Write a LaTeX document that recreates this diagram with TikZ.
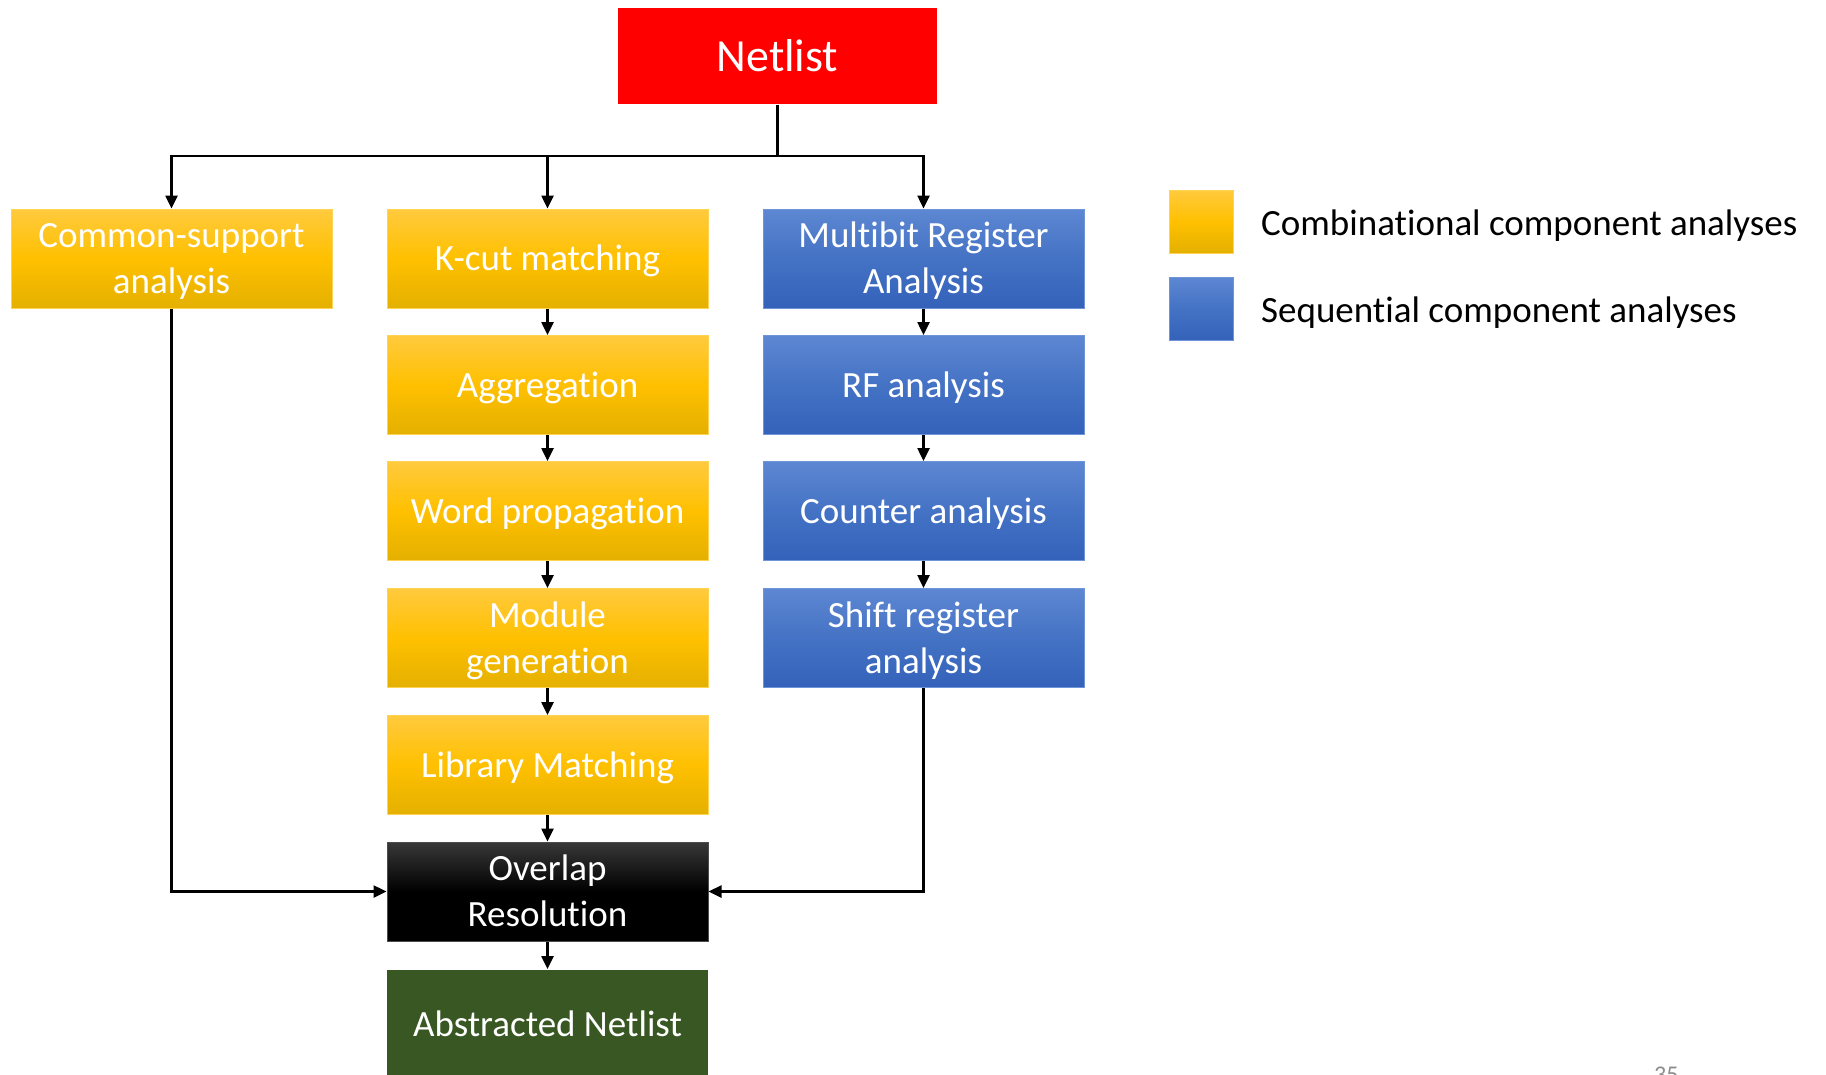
\documentclass[tikz,border=0pt]{standalone}
\usepackage{fontspec}
\setmainfont{Carlito}[RawFeature={-liga;-clig;-calt;-dlig}]
\usetikzlibrary{arrows.meta,calc}

\definecolor{netred}{HTML}{FF0000}
\definecolor{goldtop}{HTML}{FFCA3E}
\definecolor{goldmid}{HTML}{FFC000}
\definecolor{goldbot}{HTML}{E4B000}
\definecolor{goldedge}{HTML}{FFD452}
\definecolor{bluetop}{HTML}{5D87D2}
\definecolor{bluemid}{HTML}{4472C4}
\definecolor{bluebot}{HTML}{3462BA}
\definecolor{blueedge}{HTML}{6F95D8}
\definecolor{absgreen}{HTML}{385723}

% fixed line height/depth so every box text sits at the same level
\newcommand\lnstrut{\rule[-9pt]{0pt}{42pt}}
% keep letter pairs apart (no joined glyphs)
\newcommand\tI{t\kern0pt i}
\newcommand\fT{f\kern0pt t}

\tikzset{
  box/.style={minimum width=321pt, minimum height=99pt, inner sep=0pt,
    align=center, text=white, font=\fontsize{37}{46}\selectfont, line width=1pt},
  comb/.style={box, top color=goldtop, bottom color=goldbot, middle color=goldmid, draw=goldedge},
  seq/.style={box, top color=bluetop, bottom color=bluebot, middle color=bluemid, draw=blueedge},
  resolve/.style={box, top color=black!78, bottom color=black, middle color=black, draw=black!70},
  result/.style={box, fill=absgreen},
  source/.style={box, fill=netred, minimum width=319pt, minimum height=96pt,
    font=\fontsize{46}{50}\selectfont},
  swatch/.style={minimum width=64pt, minimum height=63pt, inner sep=0pt, line width=1pt},
  legendtext/.style={anchor=west, inner sep=0pt, font=\fontsize{37}{45}\selectfont},
  flow/.style={line width=2.5pt, -{Triangle[length=13pt,width=12pt]}},
  wire/.style={line width=2.5pt}
}

\begin{document}
\begin{tikzpicture}[x=1pt,y=-1pt]
\useasboundingbox (0,0) rectangle (1826,1074);
\begin{scope}
\clip (0,0) rectangle (1826,1074);

% top source
\node[source] (net) at (777.5,56) {Netlist};

% left column
\node[comb] (cs) at (171.5,258.5) {\lnstrut Common-support\\\lnstrut analysis};

% middle column (combinational chain)
\node[comb] (kcut) at (547.5,258.5) {\lnstrut K-cut matching};
\node[comb] (agg)  at (547.5,385)   {\lnstrut Aggregation};
\node[comb] (word) at (547.5,511)   {\lnstrut Word propaga\tI on};
\node[comb] (mod)  at (547.5,638)   {\lnstrut Module\\\lnstrut genera\tI on};
\node[comb] (lib)  at (547.5,765)   {\lnstrut Library Matching};

% right column (sequential chain)
\node[seq] (mbr)   at (923.5,258.5) {\lnstrut Multibit Register\\\lnstrut Analysis};
\node[seq] (rf)    at (923.5,385)   {\lnstrut RF analysis};
\node[seq] (cnt)   at (923.5,511)   {\lnstrut Counter analysis};
\node[seq] (shift) at (923.5,638)   {\lnstrut Shi\fT\ register\\\lnstrut analysis};

% merging and result
\node[resolve] (ovl) at (547.5,891.5) {\lnstrut Overlap\\\lnstrut Resolu\tI on};
\node[result, minimum height=110pt] (abs) at (547.5,1024.5) {\lnstrut Abstracted Netlist};

% fan-out from the netlist
\coordinate (split) at (777.5,156);
\draw[wire] (net.south) -- (split);
\draw[flow] (split) -| (cs.north);
\draw[flow] (split) -| (kcut.north);
\draw[flow] (split) -| (mbr.north);

% chains
\draw[flow] (kcut) -- (agg);
\draw[flow] (agg) -- (word);
\draw[flow] (word) -- (mod);
\draw[flow] (mod) -- (lib);
\draw[flow] (lib) -- (ovl);
\draw[flow] (mbr) -- (rf);
\draw[flow] (rf) -- (cnt);
\draw[flow] (cnt) -- (shift);
\draw[flow] (ovl) -- (abs);

% side inputs into overlap resolution
\draw[flow] (cs.south) |- (ovl.west);
\draw[flow] (shift.south) |- (ovl.east);

% legend
\node[swatch, top color=goldtop, bottom color=goldbot, middle color=goldmid, draw=goldedge] (lgc) at (1201,221.5) {};
\node[legendtext] (lgct) at (1261,225.5) {Combina\tI onal component analyses};
\node[swatch, top color=bluetop, bottom color=bluebot, middle color=bluemid, draw=blueedge] (lgs) at (1201,308.5) {};
\node[legendtext] (lgst) at (1261,312.5) {Sequen\tI al component analyses};

% slide number
\node[anchor=north west, inner sep=0pt, text=black!45, font=\fontsize{24}{28}\selectfont] (pg) at (1654,1067) {35};
\end{scope}
\end{tikzpicture}
\end{document}
